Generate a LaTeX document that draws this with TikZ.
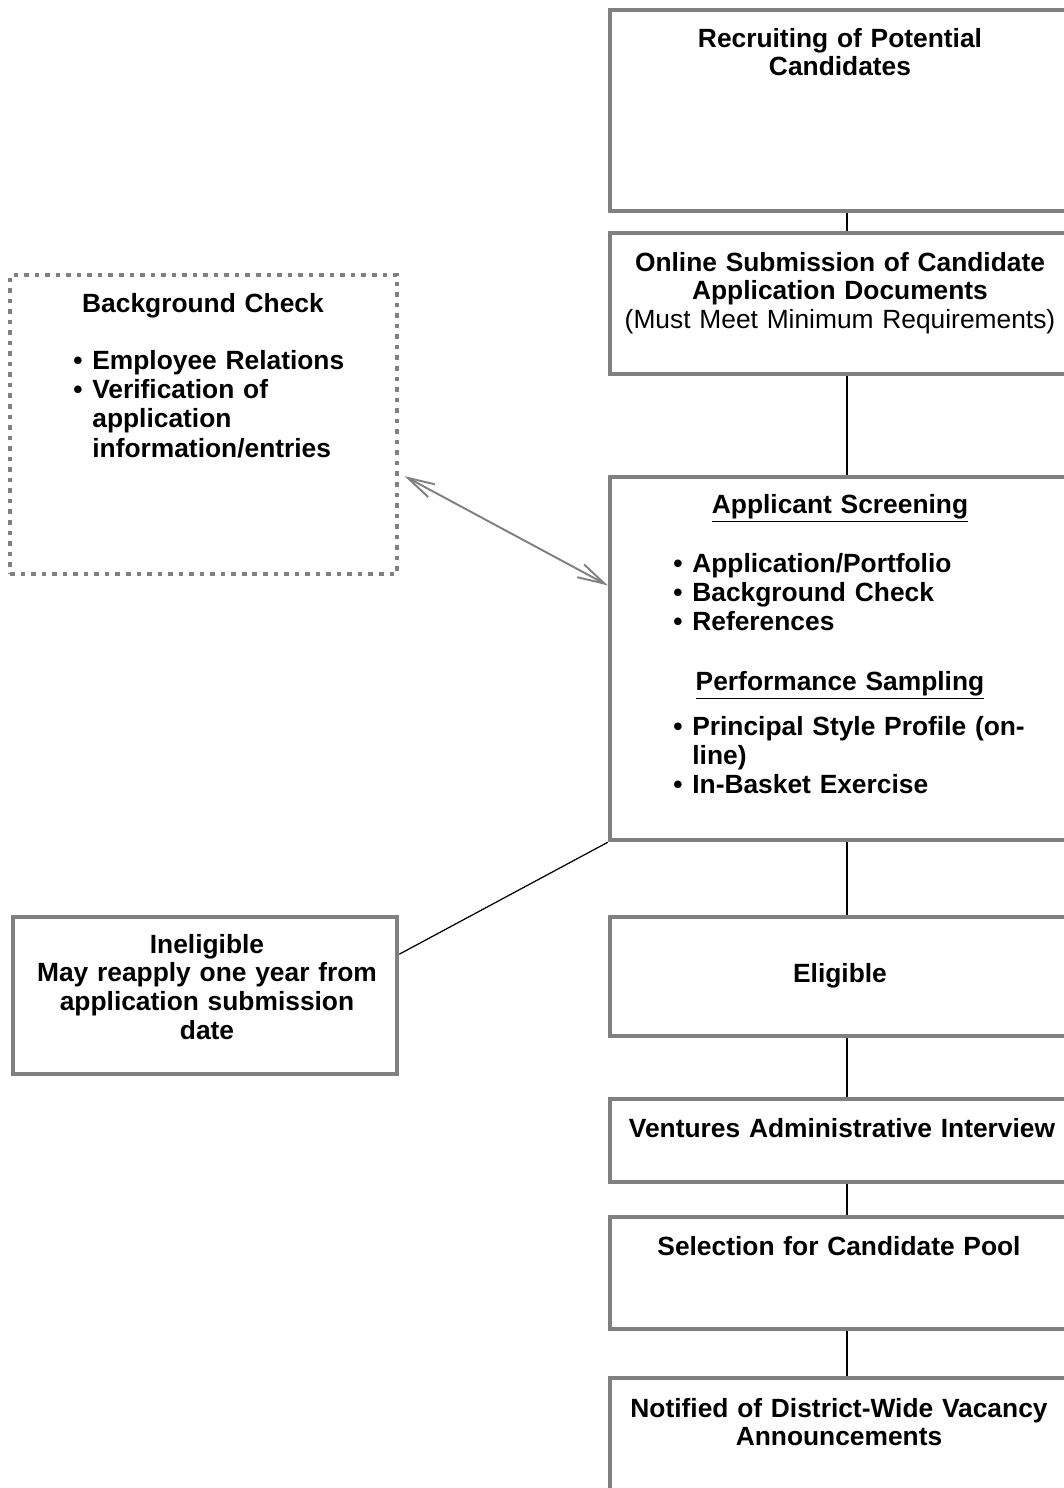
\documentclass[tikz,border=0pt]{standalone}
\usepackage{fontspec}
\setmainfont{Liberation Sans}
\usetikzlibrary{arrows.meta}
\definecolor{boxgray}{HTML}{808080}
\newcommand{\bul}{\makebox[0.38cm][l]{\textbullet}}
\newcommand{\nobul}{\hspace*{0.38cm}}
\begin{document}
\begin{tikzpicture}[x=0.02cm,y=-0.02cm,
  box/.style={draw=boxgray,line width=2.6pt,inner sep=0pt,minimum width=9.48cm},
  dotbox/.style={draw=boxgray,line width=2.6pt,dash pattern=on 2.6pt off 3.4pt,inner sep=0pt},
  txt/.style={anchor=base,inner sep=0pt,font=\bfseries\fontsize{15pt}{16.4pt}\selectfont,align=center,text width=9cm},
  lst/.style={anchor=base west,inner sep=0pt,font=\bfseries\fontsize{15pt}{16.7pt}\selectfont,align=left,text width=8.5cm},
  link/.style={line width=0.8pt}]
\clip (0,0) rectangle (1064,1488);
\node[box,minimum height=4.02cm] (recruit) at (847,110.5) {};
\node[box,minimum height=2.82cm] (online) at (847,303.5) {};
\node[box,minimum height=7.26cm] (screen) at (847,658.5) {};
\node[box,minimum height=2.38cm] (eligible) at (847,976.5) {};
\node[box,minimum height=1.66cm] (interview) at (847,1140.5) {};
\node[box,minimum height=2.24cm] (pool) at (847,1273) {};
\node[box,minimum height=3.64cm] (notify) at (847,1469) {};
\node[dotbox,minimum width=7.74cm,minimum height=5.98cm] (bgcheck) at (203.5,424.5) {};
\node[box,minimum width=7.68cm,minimum height=3.14cm] (inelig) at (205,995.5) {};

\node[txt] (recruitTxt) at (840,47) {Recruiting of Potential\\Candidates};
\node[txt] (onlineTxt) at (840,271) {Online Submission of Candidate\\Application Documents\\{\mdseries (Must Meet Minimum Requirements)}};
\node[txt] (screenHead) at (840,513) {\underline{Applicant Screening}};
\node[lst] (screenList) at (673,572) {\bul Application/Portfolio\\\bul Background Check\\\bul References};
\node[txt] (sampleHead) at (840,690) {\underline{Performance Sampling}};
\node[lst] (sampleList) at (673,735) {\bul Principal Style Profile (on-\\\nobul line)\\\bul In-Basket Exercise};
\node[txt] (eligibleTxt) at (840,982) {Eligible};
\node[txt] (interviewTxt) at (842,1137) {Ventures Administrative Interview};
\node[txt] (poolTxt) at (839,1255) {Selection for Candidate Pool};
\node[txt] (notifyTxt) at (839,1417) {Notified of District-Wide Vacancy\\Announcements};
\node[txt,text width=7.4cm] (bgTxt) at (203,312) {Background Check};
\node[lst] (bgList) at (73,369) {\bul Employee Relations\\\bul Verification of\\\nobul application\\\nobul information/entries};
\node[txt,text width=7.4cm] (ineligTxt) at (207,953) {Ineligible\\May reapply one year from\\application submission\\date};

\draw[link] (recruit) -- (online);
\draw[link] (online) -- (screen);
\draw[link] (screen) -- (eligible);
\draw[link] (eligible) -- (interview);
\draw[link] (interview) -- (pool);
\draw[link] (pool) -- (notify);
\draw[boxgray,line width=1.1pt,shorten <=0.12cm,{Straight Barb[length=0.54cm,width=0.29cm]}-{Straight Barb[length=0.54cm,width=0.29cm]}] (bgcheck.-14) -- (screen.163);
\draw[line width=0.7pt] (inelig.12) -- (screen.south west);
\end{tikzpicture}
\end{document}
